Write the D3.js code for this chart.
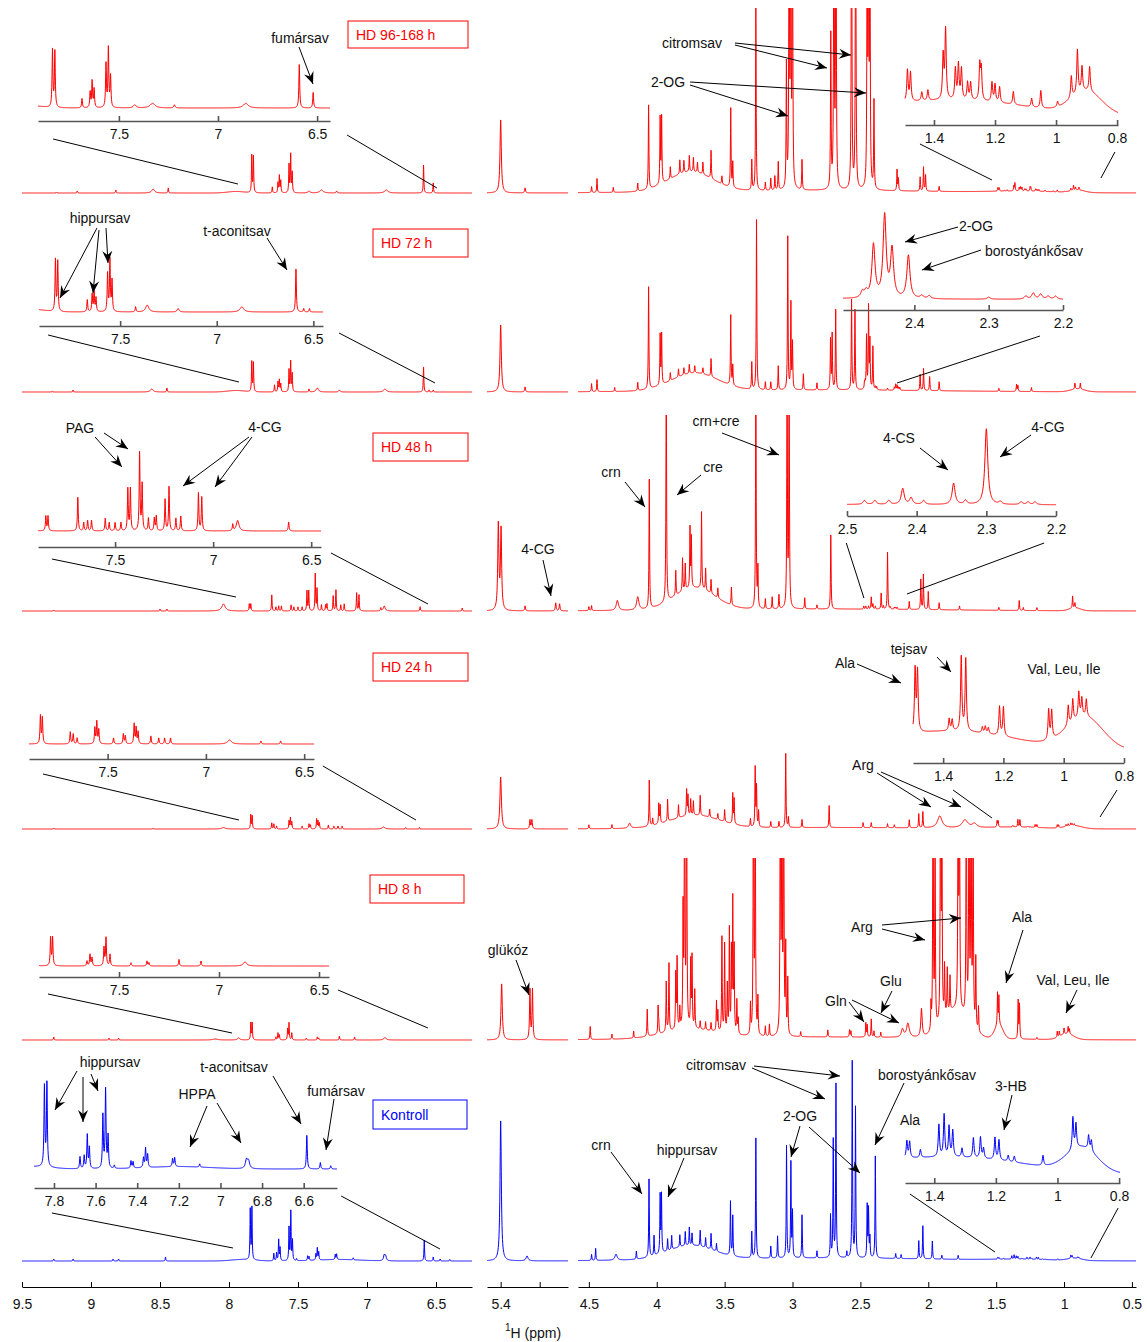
<!DOCTYPE html>
<html>
<head>
<meta charset="utf-8">
<title>1H NMR</title>
<script src="https://cdn.jsdelivr.net/npm/d3@7"></script>
<style>
  body { margin: 0; background: #fff; }
  svg { font-family: "Liberation Sans", Arial, sans-serif; }
  .axis path, .axis line { stroke: #000; stroke-width: 1; }
  .inset path, .inset line { stroke: #555; stroke-width: 1.6; }
  .tick text { font-size: 14px; fill: #111; }
  .note { font-size: 14px; fill: #111; }
  .link, .arrow { stroke: #000; stroke-width: 1; fill: none; }
  .spec { fill: none; stroke-width: 1; }
</style>
</head>
<body>
<div id="chart"></div>
<script>
// peaks: [ppm, height, half width]; bg: [ppm, height, sigma] broad humps
var peaks96 = [
  [9.25,1],[9.10,2],[8.82,3],[8.55,4,0.012],[8.44,5],
  [7.835,37],[7.823,36],[7.686,6],[7.645,10],[7.635,17],[7.625,12],
  [7.565,28],[7.553,38],[7.542,20],[7.42,2,0.008],[7.33,3,0.015],[7.22,2,0.004],[6.86,3,0.015],[6.59,28],[6.52,10],
  [5.40,73,0.004],[5.275,5],
  [4.48,6],[4.44,14],[4.32,5],[4.14,8],[4.06,84],[3.975,66],[3.964,66],
  [3.90,12],[3.83,14],[3.80,12],[3.76,16],[3.73,14],[3.70,10],[3.66,12],[3.60,28],[3.52,8],
  [3.455,79],[3.44,25],[3.30,30],[3.27,183],[3.20,8],[3.16,12],[3.13,14],[3.105,28],
  [3.045,123],[3.025,350],[3.013,350],[3.0,300],[2.93,30],
  [2.718,153],[2.695,400],[2.68,400],[2.565,400],[2.535,400],[2.45,300],[2.44,300],[2.43,300],[2.40,88],
  [2.23,21],[2.22,12],[2.06,14],[2.035,24],[2.02,16],[1.92,5],
  [1.487,3.6],[1.477,3.3],[1.44,1],[1.42,1.2],[1.37,5],[1.362,8],[1.33,3.5],[1.32,4],[1.31,3.5],[1.29,2],[1.28,2],
  [1.25,4],[1.245,3.5],[1.21,2.2],[1.2,2],[1.185,1.8],[1.14,1.5],[1.08,1],[1.05,2],[0.995,0.6],
  [0.95,2.5],[0.93,5],[0.915,2.8],[0.89,2.8]
];
var bg96 = [[7.95,1.5,0.06],[3.75,20,0.16],[2.8,2.5,0.9],[1.3,1.4,0.22],[0.9,2.6,0.05]];

var peaks72 = [
  [9.28,1],[9.13,2],[8.56,3,0.012],[8.45,4],
  [7.835,30],[7.823,29],[7.67,7],[7.645,10],[7.635,12],[7.625,8],
  [7.565,22],[7.553,30],[7.542,18],[7.42,3],[7.36,4,0.01],[7.2,2,0.006],[6.87,3,0.012],[6.59,25],[6.55,2],[6.52,2],
  [5.40,67,0.004],[5.275,5],
  [4.48,8],[4.44,12],[4.31,4],[4.14,8],[4.06,102],[3.975,50],[3.964,50],
  [3.90,8],[3.84,8],[3.80,7],[3.76,9],[3.72,7],[3.66,6],[3.60,18],
  [3.455,70],[3.44,20],[3.30,27],[3.265,170],[3.20,8],[3.16,8],[3.105,24],
  [3.035,153],[3.012,86],[3.0,46],[2.92,16],[2.82,7],
  [2.72,50],[2.708,55],[2.682,80],[2.565,90],[2.54,80],
  [2.47,6],[2.465,6],[2.455,53],[2.44,82],[2.43,48],[2.408,43],[2.39,3],[2.38,3],[2.30,2],
  [2.25,3],[2.24,6],[2.23,5],[2.22,3],[2.21,3],
  [2.06,16],[2.035,22],[1.99,14],[1.92,9],
  [1.48,3],[1.35,7],[1.34,6],[1.24,4],[0.92,6],[0.88,6]
];
var bg72 = [[7.95,1.5,0.06],[3.72,18,0.17],[2.8,2,0.9],[0.9,3,0.05]];

var peaks48 = [
  [9.27,1],[8.5,2],[8.45,2],[8.04,7,0.015],[7.853,7],[7.842,7],[7.69,16],[7.66,4],[7.64,5],[7.62,5],
  [7.55,6],[7.53,4],[7.50,4],[7.47,4],
  [7.435,20],[7.422,20],[7.375,37],[7.362,22],[7.33,6],[7.30,6],[7.29,7],[7.245,15],[7.225,21],[7.19,6],[7.165,7],
  [7.075,18],[7.058,16],[6.90,3],[6.875,5,0.008],[6.615,4.3],[6.31,3],
  [5.412,85,0.0035],[5.398,80,0.0035],[5.275,5],[5.118,8],[5.098,7],
  [4.50,4],[4.48,5],[4.29,10,0.01],[4.14,13,0.01],[4.055,129],[3.93,250],
  [3.86,25],[3.81,33],[3.79,26],[3.755,60],[3.745,50],[3.67,77],[3.64,22],[3.60,14],[3.55,10],
  [3.45,18],[3.27,250],[3.255,39],[3.20,10],[3.15,12],[3.10,14],[3.04,250],[3.025,250],[2.91,11],[2.82,4],[2.718,74],
  [2.475,3],[2.46,3],[2.44,3],[2.42,12],[2.408,5],[2.39,3],[2.347,16],[2.33,3],[2.30,57],[2.28,2],
  [2.25,2],[2.24,2],[2.23,2],
  [2.14,8],[2.055,30],[2.036,35],[2.0,18],[1.92,7],[1.77,4],[1.48,3],[1.33,10],[1.30,3],[1.20,3],[0.937,12],[0.92,5]
];
var bg48 = [[3.72,22,0.15],[2.8,2,0.9],[0.92,3,0.04]];

var peaks24 = [
  [9.27,1],[8.55,1],[8.04,1.5,0.015],[7.842,14],[7.832,13],[7.69,6],[7.675,5],[7.655,3],
  [7.565,8],[7.555,11],[7.545,7],[7.47,3],[7.42,5],[7.41,4],[7.365,10],[7.355,8],[7.345,6],
  [7.28,4],[7.24,3],[7.21,3],[7.18,3],[6.88,2,0.012],[6.72,1.5],[6.62,1.5],
  [5.40,52,0.0045],[5.25,9],[5.24,9],
  [4.50,4],[4.33,4],[4.2,5,0.01],[4.055,46],[4.03,7],[3.985,20],[3.975,18],
  [3.92,22],[3.84,13],[3.78,26],[3.77,20],[3.75,16],[3.73,14],[3.68,20],[3.61,8],[3.55,6],[3.50,12],[3.44,30],[3.43,25],
  [3.31,8],[3.275,59],[3.265,40],[3.25,16],[3.16,6],[3.10,6],[3.05,74],[3.03,10],[2.93,8],[2.73,22],
  [2.48,5],[2.42,5],[2.30,4],[2.25,3],[2.14,8],[2.07,14],[2.04,16],[1.915,12,0.02],[1.73,8,0.025],[1.66,4,0.02],
  [1.493,6.2],[1.485,6],[1.38,1.2],[1.37,1.1],[1.34,7.4],[1.325,7.2],[1.27,0.6],[1.26,0.7],[1.25,0.6],
  [1.213,2.9],[1.20,2.9],[1.05,3],[1.04,2.8],[0.985,2],[0.97,2.2],[0.95,2.5],[0.94,1.8],[0.925,1.7]
];
var bg24 = [[3.72,13,0.18],[2.8,1.5,0.9],[1.35,1.6,0.2],[0.93,3.2,0.06]];

var peaks8 = [
  [9.27,3],[8.87,2],[8.80,2],[8.1,1,0.02],[7.93,2,0.01],[7.842,17],[7.832,17],[7.66,3],[7.645,7],[7.635,5],
  [7.575,11],[7.565,17],[7.545,7],[7.44,2],[7.36,3],[7.35,2],[7.2,4],[7.09,3],[6.87,2.5,0.01],
  [5.395,56,0.004],[5.25,50],[5.237,50],
  [4.49,13],[4.33,5],[4.17,7],[4.07,27],[3.99,27],[3.985,10],
  [3.93,50],[3.91,68],[3.86,55],[3.85,70],[3.83,20],[3.806,115],[3.795,300],[3.78,300],[3.75,65],[3.74,70],[3.72,38],
  [3.68,8],[3.64,8],[3.60,8],[3.56,30],[3.55,20],
  [3.52,95],[3.50,88],[3.48,47],[3.465,103],[3.45,80],[3.44,130],[3.43,83],[3.41,33],[3.40,15],
  [3.31,30],[3.288,300],[3.275,300],[3.255,36],[3.20,10],[3.17,12],
  [3.09,300],[3.078,300],[3.065,300],[3.05,85],[3.035,55],[2.94,5],[2.74,7],[2.58,7],[2.57,6],
  [2.46,14],[2.45,12],[2.42,18],[2.40,6],[2.35,5],[2.19,8,0.01],[2.15,14,0.012],[2.05,28,0.006],
  [1.98,25],[1.965,300],[1.95,200],[1.91,300],[1.90,250],[1.88,50],[1.86,45],[1.84,35],
  [1.78,300],[1.77,250],[1.72,300],[1.70,300],[1.685,300],[1.67,250],[1.65,70],[1.63,25],
  [1.49,32],[1.48,28],[1.338,38],[1.328,34],[1.20,2],[1.05,6],[1.035,5],[1.0,6],[0.97,7],[0.96,5]
];
var bg8 = [[3.75,9,0.2],[2.8,3,0.9],[1.8,28,0.09],[1.48,14,0.03],[0.98,6,0.05]];

var peaks0 = [
  [9.27,2],[9.13,2],[8.84,2],[8.80,2],[8.46,4],[7.846,50],[7.834,52],
  [7.675,7.5],[7.655,8],[7.64,21],[7.63,13],[7.565,33],[7.552,49],[7.54,20],[7.51,2],
  [7.43,4.5],[7.42,4],[7.37,6],[7.36,12],[7.35,8],[7.23,5],[7.22,5.5],[7.10,2],
  [6.875,5.5,0.006],[6.865,4.5,0.006],[6.585,21],[6.52,4],[6.47,2],[6.40,1.5],
  [5.40,140,0.004],[5.265,5,0.006],
  [4.48,6],[4.45,12],[4.30,6,0.01],[4.15,8],[4.057,78],[4.02,20],[3.975,58],[3.965,58],
  [3.92,12],[3.89,14],[3.83,12],[3.79,14],[3.76,18],[3.74,12],[3.68,16],[3.64,10],[3.60,16],[3.56,8],
  [3.457,54],[3.44,40],[3.30,26],[3.27,120],[3.16,12],[3.11,22],[3.044,112],[3.012,95],[3.0,45],[2.93,43],
  [2.82,7],[2.72,42],[2.70,117],[2.68,173],[2.60,6],[2.56,196],[2.536,150],[2.45,52],[2.44,48],[2.43,20],[2.39,102],
  [2.24,5],[2.20,4],[2.07,18],[2.04,33],[1.97,18],[1.90,4],[1.78,4],
  [1.489,1.7],[1.48,1.6],[1.445,0.8],[1.385,3.2],[1.368,4.2],[1.352,3],[1.34,2.6],[1.31,0.9],
  [1.273,2],[1.25,2.1],[1.24,1],[1.203,2.2],[1.19,2],[1.16,0.6],[1.14,0.6],[1.047,1],
  [0.95,3.2],[0.94,2.4],[0.899,1.4],[0.89,1.1]
];
var bg0 = [[7.9,1.5,0.08],[7.2,1.5,0.15],[3.75,14,0.17],[2.8,3,0.9],[1.3,1.2,0.22],[0.92,2.4,0.05]];

// tick labels
var mainTicksL = [9.5, 9, 8.5, 8, 7.5, 7, 6.5],
    mainTicksM = [5.4, 5.2],
    mainTicksR = [4.5, 4, 3.5, 3, 2.5, 2, 1.5, 1, 0.5],
    aromTicks = [7.5, 7, 6.5],
    aromTicksFine = [7.8, 7.6, 7.4, 7.2, 7, 6.8, 6.6],
    aliphTicks = [1.4, 1.2, 1, 0.8],
    succTicks = [2.4, 2.3, 2.2],
    succTicks2 = [2.5, 2.4, 2.3, 2.2];

var red = "#ff0000", blue = "#0000ff";

/* layout: one entry per stacked spectrum */
var rows = [
  {name: "HD 96-168 h", color: red, peaks: peaks96, bg: bg96, base: 193, top: 8, box: [348, 21, 120, 27],
   insets: [
     {x: [7.908, 6.435], px: [38, 330], axis: 121, zero: 108, gain: 1.55, ticks: aromTicks,
      links: [[7.832, 18, 7.935, 9], [6.349, 14, 6.493, 5]]},
     {x: [1.495, 0.797], px: [905, 1118], axis: 125, zero: 118, gain: 8.7, ticks: aliphTicks,
      links: [[1.446, 19, 1.531, 13], [0.807, 27, 0.728, 15]]}]},
  {name: "HD 72 h", color: red, peaks: peaks72, bg: bg72, base: 392, top: 212, box: [373, 229, 95, 28],
   insets: [
     {x: [7.92, 6.45], px: [39, 323], axis: 326, zero: 312, gain: 1.72, ticks: aromTicks,
      links: [[7.873, 9, 7.928, 10], [6.367, 7, 6.507, 9]]},
     {x: [2.496, 2.2], px: [843, 1063], axis: 310, zero: 301, gain: 1.0, ticks: succTicks,
      links: [[2.231, 26, 2.23, 9]]}]},
  {name: "HD 48 h", color: red, peaks: peaks48, bg: bg48, base: 611, top: 415, box: [373, 433, 95, 28],
   insets: [
     {x: [7.893, 6.45], px: [38, 321], axis: 547, zero: 531, gain: 2.1, ticks: aromTicks,
      links: [[7.822, 12, 7.949, 14], [6.399, 6, 6.558, 7]]},
     {x: [2.5, 2.2], px: [847, 1056], axis: 516, zero: 507, gain: 1.33, ticks: succTicks2,
      links: [[2.501, 27, 2.474, 13], [2.217, 27, 2.157, 17]]}]},
  {name: "HD 24 h", color: red, peaks: peaks24, bg: bg24, base: 829, top: 640, box: [373, 653, 95, 28],
   insets: [
     {x: [7.9, 6.45], px: [29, 314], axis: 759, zero: 744, gain: 2.0, ticks: aromTicks,
      links: [[7.829, 15, 7.928, 9], [6.405, 7, 6.645, 9]]},
     {x: [1.5, 0.8], px: [913, 1124], axis: 763, zero: 752, gain: 10, ticks: aliphTicks,
      links: [[1.367, 27, 1.531, 11], [0.823, 27, 0.735, 12]]}]},
  {name: "HD 8 h", color: red, peaks: peaks8, bg: bg8, base: 1040, top: 858, box: [370, 875, 94, 28],
   insets: [
     {x: [7.9, 6.45], px: [39, 329], axis: 977, zero: 966, gain: 1.65, ticks: aromTicks,
      links: [[7.855, 17, 7.978, 7], [6.405, 13, 6.558, 12]]}]},
  {name: "Kontroll", color: blue, peaks: peaks0, bg: bg0, base: 1261, top: 1060, box: [373, 1100, 94, 29],
   insets: [
     {x: [7.896, 6.44], px: [34, 337], axis: 1188, zero: 1169, gain: 1.6, ticks: aromTicksFine,
      links: [[7.81, 25, 7.971, 13], [6.42, 8, 6.471, 12]]},
     {x: [1.495, 0.797], px: [905, 1120], axis: 1183, zero: 1177, gain: 10, ticks: aliphTicks,
      links: [[1.479, 11, 1.509, 9], [0.803, 25, 0.802, 3]]}]}
];

// annotations: text centre, then arrows [x1, y1, x2 (tip), y2]
var notes = [
  {t: "fumársav", x: 300, y: 38, a: [[299, 47, 313, 84]]},
  {t: "citromsav", x: 692, y: 43, a: [[735, 43, 851, 55], [735, 45, 827, 68]]},
  {t: "2-OG", x: 668, y: 82, a: [[690, 82, 866, 93], [690, 85, 788, 116]]},
  {t: "hippursav", x: 100, y: 218, a: [[97, 228, 60, 298], [99, 230, 93, 293], [106, 228, 108, 263]]},
  {t: "t-aconitsav", x: 237, y: 231, a: [[267, 238, 287, 270]]},
  {t: "2-OG", x: 976, y: 226, a: [[958, 227, 905, 242]]},
  {t: "borostyánkősav", x: 1034, y: 251, a: [[981, 250, 922, 270]]},
  {t: "PAG", x: 80, y: 428, a: [[95, 437, 122, 467], [104, 433, 128, 449]]},
  {t: "4-CG", x: 265, y: 427, a: [[249, 437, 183, 486], [252, 437, 215, 487]]},
  {t: "4-CG", x: 538, y: 549, a: [[543, 560, 551, 596]]},
  {t: "crn", x: 611, y: 472, a: [[625, 482, 645, 507]]},
  {t: "cre", x: 713, y: 467, a: [[701, 475, 677, 495]]},
  {t: "crn+cre", x: 716, y: 421, a: [[722, 433, 779, 455]]},
  {t: "4-CS", x: 899, y: 438, a: [[920, 448, 948, 470]]},
  {t: "4-CG", x: 1048, y: 427, a: [[1031, 435, 1000, 457]]},
  {t: "Ala", x: 845, y: 663, a: [[857, 664, 901, 683]]},
  {t: "tejsav", x: 909, y: 649, a: [[937, 657, 951, 672]]},
  {t: "Val, Leu, Ile", x: 1064, y: 669, a: []},
  {t: "Arg", x: 863, y: 765, a: [[877, 773, 931, 807], [881, 772, 961, 807]]},
  {t: "glükóz", x: 508, y: 950, a: [[516, 960, 529, 995]]},
  {t: "Arg", x: 862, y: 927, a: [[882, 925, 961, 918], [882, 929, 925, 940]]},
  {t: "Ala", x: 1022, y: 917, a: [[1023, 930, 1006, 983]]},
  {t: "Glu", x: 891, y: 981, a: [[892, 991, 881, 1013]]},
  {t: "Gln", x: 836, y: 1001, a: [[849, 1002, 864, 1022], [852, 1000, 899, 1023]]},
  {t: "Val, Leu, Ile", x: 1073, y: 980, a: [[1077, 990, 1066, 1013]]},
  {t: "hippursav", x: 110, y: 1062, a: [[77, 1071, 55, 1110], [83, 1077, 83, 1122], [91, 1074, 98, 1091]]},
  {t: "t-aconitsav", x: 234, y: 1067, a: [[273, 1076, 301, 1124]]},
  {t: "HPPA", x: 197, y: 1094, a: [[207, 1106, 190, 1147], [217, 1103, 241, 1143]]},
  {t: "fumársav", x: 336, y: 1091, a: [[334, 1099, 326, 1150]]},
  {t: "citromsav", x: 716, y: 1065, a: [[754, 1066, 840, 1076], [752, 1068, 825, 1099]]},
  {t: "2-OG", x: 800, y: 1116, a: [[800, 1126, 791, 1157], [809, 1127, 860, 1173]]},
  {t: "borostyánkősav", x: 927, y: 1075, a: [[904, 1083, 875, 1145]]},
  {t: "crn", x: 601, y: 1145, a: [[611, 1152, 642, 1194]]},
  {t: "hippursav", x: 687, y: 1150, a: [[684, 1158, 668, 1197]]},
  {t: "Ala", x: 910, y: 1120, a: []},
  {t: "3-HB", x: 1011, y: 1086, a: [[1012, 1095, 1004, 1130]]}
];

var width = 1147, height = 1342;
var svg = d3.select("#chart").append("svg")
            .attr("width", width)
            .attr("height", height);

var defs = svg.append("defs");
defs.append("marker")
    .attr("id", "head")
    .attr("viewBox", "-13 -6 14 12")
    .attr("refX", 0).attr("refY", 0)
    .attr("markerWidth", 14).attr("markerHeight", 12)
    .attr("markerUnits", "userSpaceOnUse")
    .attr("orient", "auto")
  .append("path")
    .attr("d", "M0,0L-12,-5L-8,0L-12,5Z")
    .attr("fill", "#000");

/* the three broken ppm ranges of the main axis */
var xL = d3.scaleLinear().domain([9.5, 6.239]).range([22, 472]),
    xM = d3.scaleLinear().domain([5.47, 5.055]).range([487, 568]),
    xR = d3.scaleLinear().domain([4.58, 0.47]).range([578, 1136]);
var panels = [xL, xM, xR];
var mainOf = function(p) { return p > 6 ? xL : (p > 5 ? xM : xR); };

var spectrum = function(peaks, bg) {
  return function(p) {
    var s = 0, i, k, d;
    for (i = 0; i < peaks.length; i++) {
      k = peaks[i];
      d = (p - k[0]) / (k[2] || 0.0025);
      s += k[1] / (1 + d * d);
    }
    for (i = 0; i < bg.length; i++) {
      k = bg[i];
      d = (p - k[0]) / k[2];
      s += k[1] * Math.exp(-0.5 * d * d);
    }
    return s;
  };
};

// sample a quarter pixel apart, plus every peak centre so no apex is lost
var grid = function(x, peaks) {
  var dom = x.domain(),
      lo = Math.min(dom[0], dom[1]), hi = Math.max(dom[0], dom[1]),
      n = Math.ceil(Math.abs(x.range()[1] - x.range()[0]) * 4);
  var pts = d3.range(n + 1).map(function(i) { return lo + (hi - lo) * i / n; });
  peaks.forEach(function(k) { if (k[0] > lo && k[0] < hi) pts.push(k[0]); });
  return pts.sort(d3.ascending);
};

var fmt = function(d) { return d === 5.2 ? "" : String(d); };

var drawAxis = function(g, x, y, ticks, cls, pad) {
  var a = g.append("g")
    .attr("class", cls)
    .attr("transform", "translate(0," + y + ")")
    .call(d3.axisBottom(x).tickValues(ticks).tickSize(-5).tickSizeOuter(0)
            .tickPadding(pad).tickFormat(fmt));
  a.attr("font-size", null).attr("font-family", null);
};

rows.forEach(function(r, ri) {
  var g = svg.append("g").attr("class", "row");
  var f = spectrum(r.peaks, r.bg);
  var clipId = "clip" + ri;

  var clip = defs.append("clipPath").attr("id", clipId);
  panels.forEach(function(x) {
    clip.append("rect")
        .attr("x", x.range()[0]).attr("y", r.top)
        .attr("width", x.range()[1] - x.range()[0])
        .attr("height", r.base + 20 - r.top);
  });

  panels.forEach(function(x) {
    g.append("path")
     .attr("class", "spec")
     .attr("clip-path", "url(#" + clipId + ")")
     .attr("stroke", r.color)
     .attr("d", d3.line().x(function(p) { return x(p); })
                         .y(function(p) { return r.base - f(p); })(grid(x, r.peaks)));
  });

  r.insets.forEach(function(ins) {
    var xi = d3.scaleLinear().domain(ins.x).range(ins.px);
    g.append("path")
     .attr("class", "spec")
     .attr("stroke", r.color)
     .attr("d", d3.line().x(function(p) { return xi(p); })
                         .y(function(p) { return ins.zero - ins.gain * f(p); })(grid(xi, r.peaks)));
    drawAxis(g, xi, ins.axis, ins.ticks, "inset", 8);

    ins.links.forEach(function(l) {
      var xm = mainOf(l[2]);
      g.append("line")
       .attr("class", "link")
       .attr("x1", xi(l[0])).attr("y1", ins.axis + l[1])
       .attr("x2", xm(l[2])).attr("y2", r.base - l[3]);
    });
  });

  g.append("rect")
   .attr("x", r.box[0]).attr("y", r.box[1])
   .attr("width", r.box[2]).attr("height", r.box[3])
   .attr("fill", "none")
   .attr("stroke", r.color);
  g.append("text")
   .attr("x", r.box[0] + 8).attr("y", r.box[1] + r.box[3] / 2 + 5)
   .attr("fill", r.color)
   .style("font-size", "14px")
   .text(r.name);
});

/* main axis, broken in three */
var axisY = 1287;
drawAxis(svg, xL, axisY, mainTicksL, "axis", 12);
drawAxis(svg, xM, axisY, mainTicksM, "axis", 12);
drawAxis(svg, xR, axisY, mainTicksR, "axis", 12);

var title = svg.append("text")
  .attr("x", 505).attr("y", 1338)
  .style("font-size", "14px")
  .attr("fill", "#111");
title.append("tspan").style("font-size", "10px").attr("dy", -7).text("1");
title.append("tspan").attr("dy", 7).text("H (ppm)");

/* labels and arrows */
var nl = svg.append("g").attr("class", "notes");
notes.forEach(function(n) {
  nl.append("text")
    .attr("class", "note")
    .attr("x", n.x).attr("y", n.y + 5)
    .attr("text-anchor", "middle")
    .text(n.t);
  n.a.forEach(function(a) {
    nl.append("line")
      .attr("class", "arrow")
      .attr("x1", a[0]).attr("y1", a[1])
      .attr("x2", a[2]).attr("y2", a[3])
      .attr("marker-end", "url(#head)");
  });
});
</script>
</body>
</html>
